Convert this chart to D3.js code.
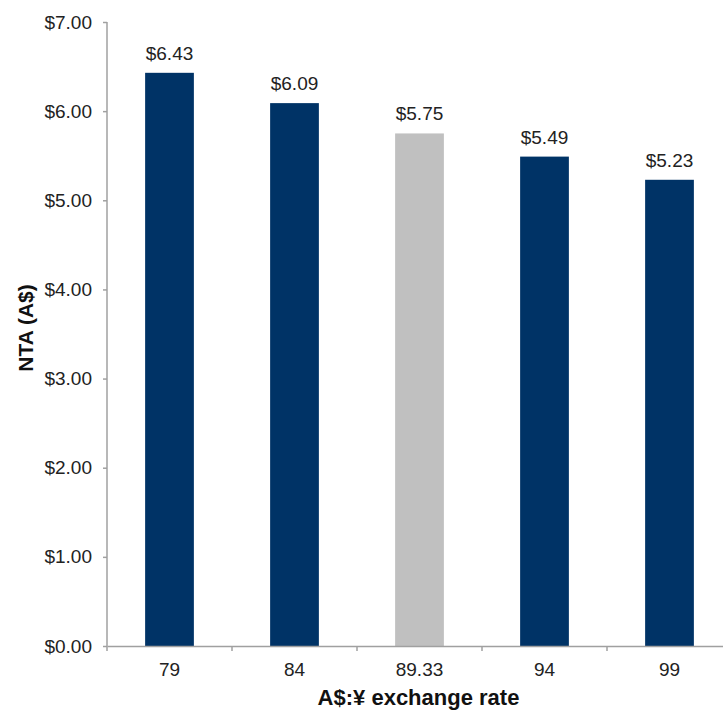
<!DOCTYPE html>
<html>
<head>
<meta charset="utf-8">
<script src="https://cdn.jsdelivr.net/npm/d3@7"></script>
<style>
  body { margin: 0; background: #fff; }
  svg { display: block; }
  text { font-family: "Liberation Sans", Arial, sans-serif; }
</style>
</head>
<body>
<div id="chart"></div>
<script>
// exchange rate scenarios and the NTA at each
var rates = ["79", "84", "89.33", "94", "99"];
var nta = [6.43, 6.09, 5.75, 5.49, 5.23];
var current = ["89.33"];
var yTicks = [0, 1, 2, 3, 4, 5, 6, 7];

var margin = { top: 22, right: -9, bottom: 70, left: 107 },
    width = 723 - margin.left - margin.right,
    height = 716 - margin.top - margin.bottom;

var svg = d3
    .select("#chart")
    .append("svg")
    .attr("width", 723)
    .attr("height", 716)
    .append("g")
    .attr("transform", "translate(" + margin.left + "," + margin.top + ")");

var data = rates.map((r, i) => ({ rate: r, value: nta[i] }));

var x = d3.scaleBand().domain(rates).range([0, width]).padding(0);
var y = d3.scaleLinear().domain([0, 7]).range([height, 0]);

var axisColor = "#a0a0a0";
var textColor = "#222";

// bars
var barW = x.bandwidth() * 0.39;
svg.selectAll(".bar")
    .data(data)
    .enter()
    .append("rect")
    .attr("class", "bar")
    .attr("x", (d) => x(d.rate) + (x.bandwidth() - barW) / 2)
    .attr("y", (d) => y(d.value))
    .attr("width", barW)
    .attr("height", (d) => y(0) - y(d.value))
    .attr("fill", (d) => (current.includes(d.rate) ? "#c0c0c0" : "#003366"));

// value labels
svg.selectAll(".val")
    .data(data)
    .enter()
    .append("text")
    .attr("class", "val")
    .attr("x", (d) => x(d.rate) + x.bandwidth() / 2)
    .attr("y", (d) => y(d.value) - 13)
    .attr("text-anchor", "middle")
    .style("font-size", "19px")
    .style("fill", textColor)
    .text((d) => d3.format("$.2f")(d.value));

// y axis
var yAxis = svg.append("g")
    .call(d3.axisLeft(y).tickValues(yTicks).tickFormat(d3.format("$.2f")).tickSize(4).tickPadding(11));
yAxis.select(".domain").attr("stroke", axisColor).attr("stroke-width", 1.5).attr("d", "M0," + height + "V0");
yAxis.selectAll(".tick line").attr("stroke", axisColor).attr("stroke-width", 1.5);
yAxis.selectAll(".tick text").style("font-size", "19px").style("fill", textColor)
    .style("font-family", "'Liberation Sans', Arial, sans-serif");

// x axis: labels centred in bands, ticks on band edges
var xAxis = svg.append("g")
    .attr("transform", "translate(0," + height + ")")
    .call(d3.axisBottom(x).tickSize(0).tickPadding(17));
xAxis.select(".domain").attr("stroke", axisColor).attr("stroke-width", 1.5);
xAxis.selectAll(".tick text").style("font-size", "19px").style("fill", textColor)
    .style("font-family", "'Liberation Sans', Arial, sans-serif");

svg.append("g")
    .attr("transform", "translate(0," + height + ")")
    .selectAll("line")
    .data(rates)
    .enter()
    .append("line")
    .attr("x1", (d) => x(d))
    .attr("x2", (d) => x(d))
    .attr("y1", 0)
    .attr("y2", 5)
    .attr("stroke", axisColor)
    .attr("stroke-width", 1.5);

// axis titles
svg.append("text")
    .attr("x", x("89.33") + x.bandwidth() / 2 - 1)
    .attr("y", height + 59)
    .attr("text-anchor", "middle")
    .style("font-size", "22px")
    .style("font-weight", "bold")
    .style("fill", "#111")
    .text("A$:¥ exchange rate");

svg.append("text")
    .attr("transform", "translate(" + (-74) + "," + (height / 2 - 6) + ") rotate(-90)")
    .attr("text-anchor", "middle")
    .style("font-size", "21px")
    .style("font-weight", "bold")
    .style("fill", "#111")
    .text("NTA (A$)");
</script>
</body>
</html>
